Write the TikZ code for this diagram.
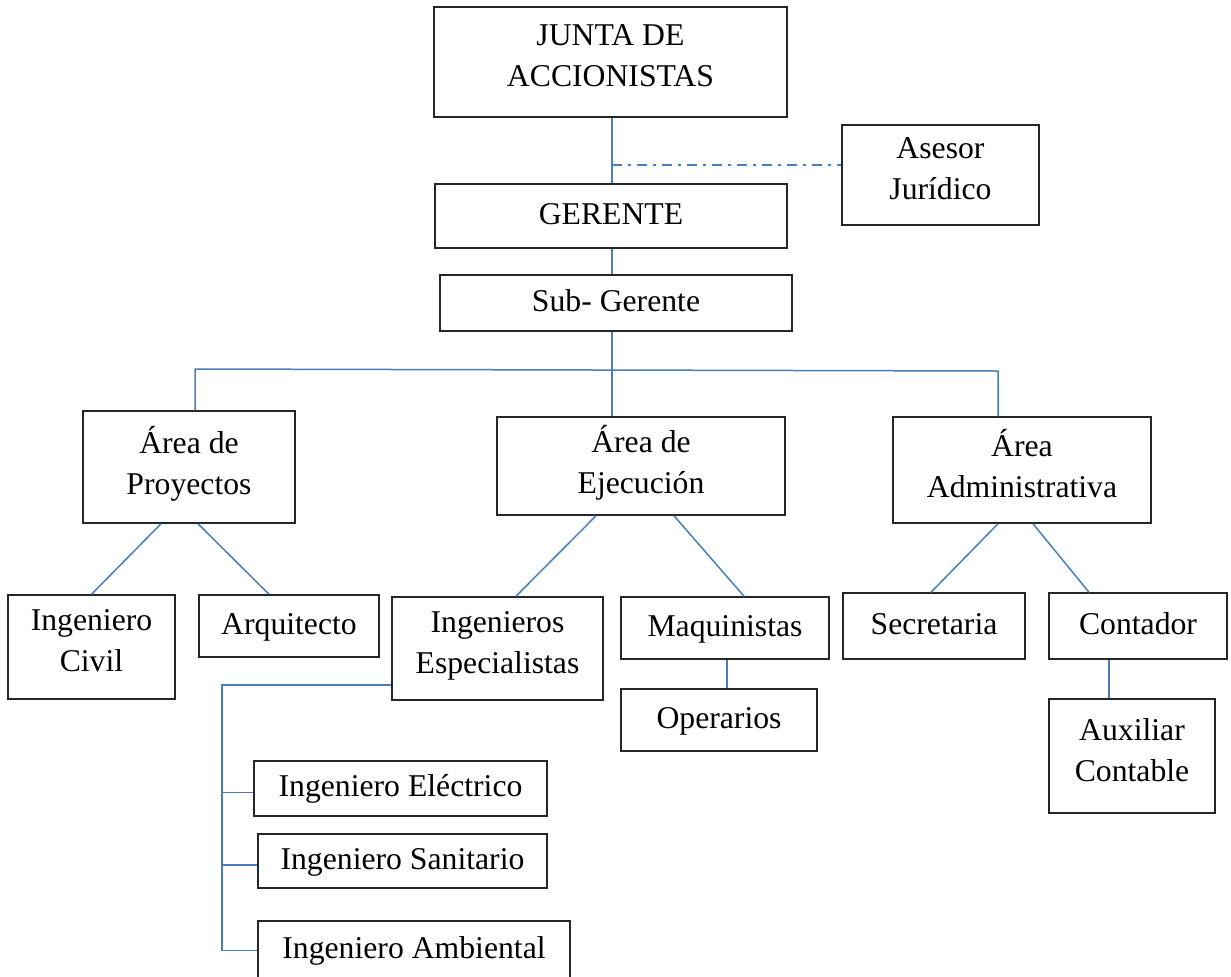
\documentclass[tikz,border=0pt]{standalone}
\usepackage{fontspec}
\setmainfont{Liberation Serif}
\usetikzlibrary{calc}
\definecolor{linea}{RGB}{74,126,187}
\begin{document}
\begin{tikzpicture}[x=0.5pt,y=-0.5pt,
  caja/.style={draw=black!85, line width=0.75pt, inner sep=0pt, align=center,
    font=\fontsize{15.85}{20.5}\selectfont,
    execute at begin node=\strut, execute at end node=\strut},
  enlace/.style={draw=linea, line width=0.75pt},
  asesoria/.style={enlace, dash pattern=on 5pt off 3pt on 1.5pt off 3pt}]
\useasboundingbox (0,0) rectangle (1231,976);
\node[caja, minimum width=176.5pt, minimum height=55pt] (junta) at (610.5,62) {JUNTA DE\\ACCIONISTAS};
\node[caja, minimum width=98.5pt, minimum height=50pt] (asesor) at (940.5,175) {Asesor\\Jurídico};
\node[caja, minimum width=176pt, minimum height=32pt] (gerente) at (611,216) {GERENTE};
\node[caja, minimum width=176pt, minimum height=28pt] (sub) at (616,303) {Sub- Gerente};
\node[caja, minimum width=106pt, minimum height=56pt] (proy) at (189,467) {Área de\\Proyectos};
\node[caja, minimum width=144pt, minimum height=49pt] (ejec) at (641,466) {Área de\\Ejecución};
\node[caja, minimum width=129pt, minimum height=53pt] (admin) at (1022,470) {Área\\Administrativa};
\node[caja, minimum width=83.5pt, minimum height=52pt] (civil) at (91.5,647) {Ingeniero\\Civil};
\node[caja, minimum width=90pt, minimum height=31pt] (arq) at (289,626) {Arquitecto};
\node[caja, minimum width=105.5pt, minimum height=51.5pt] (espec) at (497.5,648.5) {Ingenieros\\Especialistas};
\node[caja, minimum width=104pt, minimum height=31pt] (maq) at (725,628) {Maquinistas};
\node[caja, minimum width=98pt, minimum height=31pt] (oper) at (719,720) {Operarios};
\node[caja, minimum width=91pt, minimum height=33pt] (secr) at (934,626) {Secretaria};
\node[caja, minimum width=89pt, minimum height=33pt] (cont) at (1138,626) {Contador};
\node[caja, minimum width=83pt, minimum height=57pt] (aux) at (1132,756) {Auxiliar\\Contable};
\node[caja, minimum width=146.5pt, minimum height=27.5pt] (elec) at (400.5,788.5) {Ingeniero Eléctrico};
\node[caja, minimum width=144.5pt, minimum height=27pt] (sanit) at (402.5,861) {Ingeniero Sanitario};
\node[caja, minimum width=156pt, minimum height=29.5pt] (amb) at (414,950.5) {Ingeniero Ambiental};

\coordinate (jg) at (612,165);
\coordinate (bus) at (612,370);
\coordinate (busl) at (195,369);
\coordinate (busr) at (998,371);
\coordinate (brk) at (222,685);

\draw[enlace] (junta.south -| jg) -- (gerente.north -| jg);
\draw[asesoria] (jg) -- (jg -| asesor.west);
\draw[enlace] (gerente.south -| jg) -- (sub.north -| jg);
\draw[enlace] (sub.south -| bus) -- (bus |- ejec.north);
\draw[enlace] (proy.north -| busl) -- (busl) -- (busr) -- (busr |- admin.north);

\draw[enlace] ($(proy.south)+(-28,0)$) -- (civil.north);
\draw[enlace] ($(proy.south)+(9,0)$) -- ($(arq.north)+(-20,0)$);
\draw[enlace] ($(ejec.south)+(-45,0)$) -- ($(espec.north)+(18.5,0)$);
\draw[enlace] ($(ejec.south)+(33,0)$) -- ($(maq.north)+(19,0)$);
\draw[enlace] ($(admin.south)+(-24,0)$) -- ($(secr.north)+(-3,0)$);
\draw[enlace] ($(admin.south)+(11,0)$) -- ($(cont.north)+(-49,0)$);

\draw[enlace] ($(maq.south)+(2,0)$) -- ($(maq.south |- oper.north)+(2,0)$);
\draw[enlace] ($(cont.south)+(-29,0)$) -- ($(cont.south |- aux.north)+(-29,0)$);

\draw[enlace] (espec.west |- brk) -- (brk) |- (amb.west);
\draw[enlace] ($(brk |- elec.west)+(0,4)$) -- ($(elec.west)+(0,4)$);
\draw[enlace] ($(brk |- sanit.west)+(0,4)$) -- ($(sanit.west)+(0,4)$);
\end{tikzpicture}
\end{document}
